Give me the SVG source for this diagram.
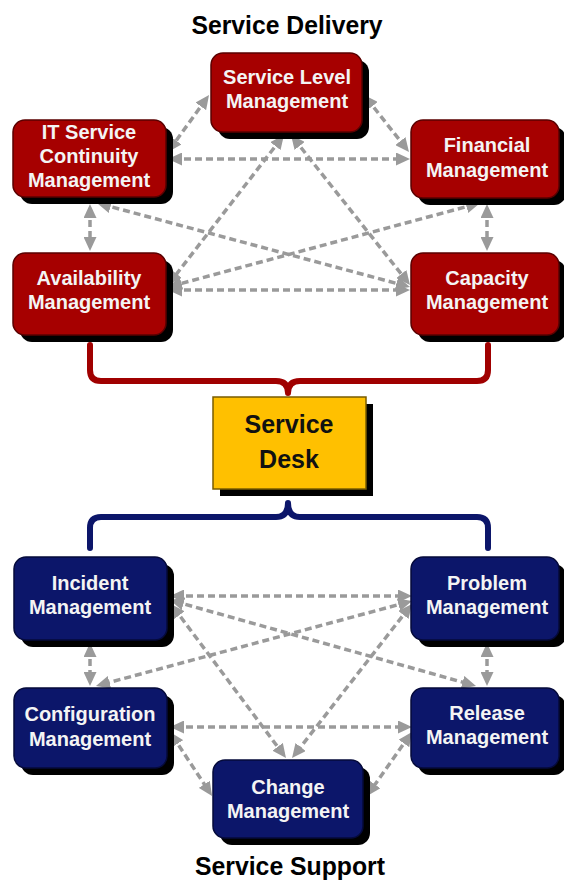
<svg xmlns="http://www.w3.org/2000/svg" width="564" height="890" viewBox="0 0 564 890">
<style>
.title{font-family:"Liberation Sans",Arial,sans-serif;font-weight:bold;font-size:26px;fill:#000;text-anchor:middle}
.lbl{font-family:"Liberation Sans",Arial,sans-serif;font-weight:bold;font-size:20px;fill:#F4F4F4;text-anchor:middle}
.desk{font-family:"Liberation Sans",Arial,sans-serif;font-weight:bold;font-size:25px;fill:#111;text-anchor:middle}
.sh{fill:#000}
.red{fill:#A60000;stroke:#5A0000;stroke-width:1.5}
.blue{fill:#0C166A;stroke:#050A3A;stroke-width:1.5}
.gold{fill:#FFC000;stroke:#7A5C00;stroke-width:1.5}
.con{fill:none;stroke:#9A9A9A;stroke-width:3.5;stroke-dasharray:7 4;marker-start:url(#ah);marker-end:url(#ah)}
.brace{fill:none;stroke-width:6;stroke-linecap:round;stroke-linejoin:round}
</style>
<defs>
<marker id="ah" viewBox="0 0 14 13" refX="9" refY="6.5" markerWidth="14" markerHeight="13" markerUnits="userSpaceOnUse" orient="auto-start-reverse">
<path d="M0,0 L14,6.5 L0,13 z" fill="#9A9A9A"/>
</marker>
</defs>
<rect width="564" height="890" fill="#fff"/>
<text class="title" x="287" y="34" textLength="191" lengthAdjust="spacingAndGlyphs">Service Delivery</text>
<text class="title" x="290" y="875" textLength="190" lengthAdjust="spacingAndGlyphs">Service Support</text>

<g id="braces">
<path class="brace" stroke="#A00000" d="M90,345 V370 Q90,381 101,381 H276 Q288,381 288,393 Q288,381 300,381 H477 Q488,381 488,370 V345"/>
<path class="brace" stroke="#0C166A" d="M90,548 V528 Q90,517 101,517 H276 Q288,517 288,503 Q288,517 300,517 H477 Q488,517 488,528 V548"/>
</g>

<g id="connectors">
<path class="con" d="M206.1,99.1 L170.9,147.9"/>
<path class="con" d="M367.1,98.9 L405.9,148.1"/>
<path class="con" d="M173,159 L405,159"/>
<path class="con" d="M90,209 L90,246"/>
<path class="con" d="M487,209 L487,246"/>
<path class="con" d="M173,290 L405,290"/>
<path class="con" d="M101.8,204.3 L405.2,285.7"/>
<path class="con" d="M475.2,204.3 L172.8,285.7"/>
<path class="con" d="M280.9,139 L171.1,281"/>
<path class="con" d="M294.1,138.9 L406.9,281.1"/>
<path class="con" d="M175,596 L407,596"/>
<path class="con" d="M174.8,601.4 L471.2,684.6"/>
<path class="con" d="M407.2,602.3 L100.8,684.7"/>
<path class="con" d="M90,648 L90,681"/>
<path class="con" d="M487,648 L487,681"/>
<path class="con" d="M174,608 L283,754"/>
<path class="con" d="M408.9,607.9 L295.1,754.1"/>
<path class="con" d="M175,727 L407,727"/>
<path class="con" d="M172.7,736.2 L209.3,791.8"/>
<path class="con" d="M409.1,736.1 L369.9,791.9"/>
</g>

<g id="service-level">
<rect class="sh" x="218" y="60" width="151" height="79" rx="12"/>
<rect class="red" x="211" y="53" width="151" height="79" rx="12"/>
<text class="lbl" x="287" y="84">Service Level</text>
<text class="lbl" x="287" y="108">Management</text>
</g>
<g id="it-continuity">
<rect class="sh" x="20" y="127" width="153" height="77" rx="12"/>
<rect class="red" x="13" y="120" width="153" height="77" rx="12"/>
<text class="lbl" x="89" y="139">IT Service</text>
<text class="lbl" x="89" y="163">Continuity</text>
<text class="lbl" x="89" y="187">Management</text>
</g>
<g id="financial">
<rect class="sh" x="418" y="127" width="148" height="78" rx="12"/>
<rect class="red" x="411" y="120" width="148" height="78" rx="12"/>
<text class="lbl" x="487" y="152">Financial</text>
<text class="lbl" x="487" y="177">Management</text>
</g>
<g id="availability">
<rect class="sh" x="20" y="260" width="153" height="82" rx="12"/>
<rect class="red" x="13" y="253" width="153" height="82" rx="12"/>
<text class="lbl" x="89" y="285">Availability</text>
<text class="lbl" x="89" y="309">Management</text>
</g>
<g id="capacity">
<rect class="sh" x="418" y="260" width="148" height="82" rx="12"/>
<rect class="red" x="411" y="253" width="148" height="82" rx="12"/>
<text class="lbl" x="487" y="285">Capacity</text>
<text class="lbl" x="487" y="309">Management</text>
</g>

<g id="service-desk">
<rect class="sh" x="220" y="404" width="153" height="92"/>
<rect class="gold" x="213" y="397" width="153" height="92"/>
<text class="desk" x="289" y="433">Service</text>
<text class="desk" x="289" y="468">Desk</text>
</g>

<g id="incident">
<rect class="sh" x="21" y="564" width="153" height="83" rx="12"/>
<rect class="blue" x="14" y="557" width="153" height="83" rx="12"/>
<text class="lbl" x="90" y="590">Incident</text>
<text class="lbl" x="90" y="614">Management</text>
</g>
<g id="problem">
<rect class="sh" x="418" y="564" width="148" height="83" rx="12"/>
<rect class="blue" x="411" y="557" width="148" height="83" rx="12"/>
<text class="lbl" x="487" y="590">Problem</text>
<text class="lbl" x="487" y="614">Management</text>
</g>
<g id="configuration">
<rect class="sh" x="21" y="695" width="153" height="80" rx="12"/>
<rect class="blue" x="14" y="688" width="153" height="80" rx="12"/>
<text class="lbl" x="90" y="721">Configuration</text>
<text class="lbl" x="90" y="746">Management</text>
</g>
<g id="release">
<rect class="sh" x="418" y="695" width="148" height="80" rx="12"/>
<rect class="blue" x="411" y="688" width="148" height="80" rx="12"/>
<text class="lbl" x="487" y="720">Release</text>
<text class="lbl" x="487" y="744">Management</text>
</g>
<g id="change">
<rect class="sh" x="220" y="767" width="150" height="78" rx="12"/>
<rect class="blue" x="213" y="760" width="150" height="78" rx="12"/>
<text class="lbl" x="288" y="794">Change</text>
<text class="lbl" x="288" y="818">Management</text>
</g>
</svg>
